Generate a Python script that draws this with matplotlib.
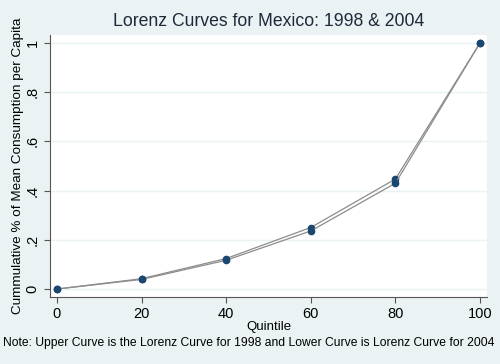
import matplotlib
matplotlib.use("Agg")
import matplotlib.pyplot as plt

plt.rcParams["font.family"] = ["Liberation Sans", "DejaVu Sans"]

quintil = [0, 20, 40, 60, 80, 100]
lorenz_1998 = [0, 0.042, 0.124, 0.250, 0.447, 1.0]
lorenz_2004 = [0, 0.039, 0.117, 0.236, 0.430, 1.0]
yticks = [0, 0.2, 0.4, 0.6, 0.8, 1]
ytick_labels = ["0", ".2", ".4", ".6", ".8", "1"]

fondo = "#eaf2f3"
azul = "#1a476f"

fig = plt.figure(figsize=(5, 3.64), dpi=100, facecolor=fondo)
ax = fig.add_axes([0.1, 0.184, 0.874, 0.72])
ax.set_facecolor("white")

for serie in (lorenz_1998, lorenz_2004):
    ax.plot(quintil, serie, color="#8c8c8c", lw=0.9, marker="o", ms=4.5,
            mfc=azul, mec=azul, zorder=3)

ax.set_xlim(-1.65, 101.65)
ax.set_ylim(-0.0325, 1.0325)
ax.set_xticks(quintil)
ax.set_yticks(yticks)
ax.set_yticklabels(ytick_labels, rotation=90, va="center")
ax.grid(axis="y", color="#eaf2f3", lw=1)
ax.set_axisbelow(True)

for lado in ("top", "right"):
    ax.spines[lado].set_visible(False)
for lado in ("left", "bottom"):
    ax.spines[lado].set_color("#555555")
    ax.spines[lado].set_linewidth(0.8)
ax.tick_params(colors="#555555", labelcolor="black", labelsize=10.5, length=4)

ax.set_xlabel("Quintile", fontsize=9.5, labelpad=0)
ax.set_ylabel("Cummulative % of Mean Consumption per Capita", fontsize=9.7, labelpad=1)
ax.set_title("Lorenz Curves for Mexico: 1998 & 2004", fontsize=12.7, color="#1e2a3a", pad=6.5)
fig.text(0.006, 0.058, "Note: Upper Curve is the Lorenz Curve for 1998 and Lower Curve is Lorenz Curve for 2004",
         ha="left", va="center", fontsize=8.7)

plt.savefig("out.png", dpi=100, facecolor=fondo)
